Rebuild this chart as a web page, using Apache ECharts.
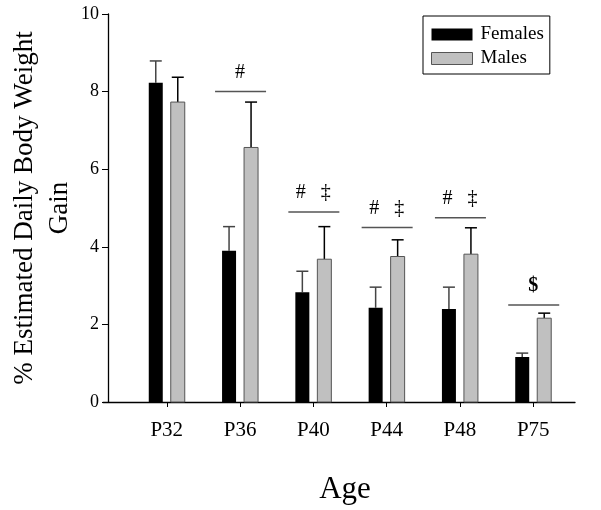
<!DOCTYPE html>
<html><head><meta charset="utf-8">
<script src="https://cdn.jsdelivr.net/npm/echarts@6/dist/echarts.min.js"></script>
<style>html,body{margin:0;padding:0;background:#fff}#c{width:601px;height:510px}</style>
</head><body><div id="c"></div>
<script>
const categories = ['P32', 'P36', 'P40', 'P44', 'P48', 'P75'];
const femaleMean = [8.23, 3.90, 2.83, 2.43, 2.40, 1.16];
const femaleErr  = [0.56, 0.62, 0.54, 0.53, 0.56, 0.10];
const maleMean   = [7.73, 6.56, 3.68, 3.75, 3.81, 2.16];
const maleErr    = [0.64, 1.17, 0.84, 0.43, 0.68, 0.13];
const sigIndex   = [1, 2, 3, 4, 5];
const sigLevels  = [8.0, 4.9, 4.5, 4.75, 2.5];
const sigLabels  = ['#', '#   \u2021', '#   \u2021', '#   \u2021', '$'];
const yTicks     = [0, 2, 4, 6, 8, 10];

const FONT = '"Liberation Serif", "Times New Roman", serif';
const chart = echarts.init(document.getElementById('c'), null, {renderer: 'canvas'});

function barRenderer(dx, fill, stroke, errColor) {
  return function (params, api) {
    const x = api.value(0), v = api.value(1), e = api.value(2);
    const base = api.coord([x, 0]);
    const top = api.coord([x, v]);
    const et = api.coord([x, v + e]);
    const cx = base[0] + dx;
    return {
      type: 'group',
      children: [
        {type: 'line', shape: {x1: cx, y1: top[1], x2: cx, y2: et[1]}, style: {stroke: errColor, lineWidth: 1.5}},
        {type: 'line', shape: {x1: cx - 6, y1: et[1], x2: cx + 6, y2: et[1]}, style: {stroke: errColor, lineWidth: 1.5}},
        {type: 'rect', shape: {x: cx - 7, y: top[1], width: 14, height: base[1] - top[1]},
         style: {fill: fill, stroke: stroke, lineWidth: stroke ? 1 : 0}}
      ]
    };
  };
}

const option = {
  animation: false,
  backgroundColor: '#fff',
  grid: {left: 103, right: 26, top: 14, bottom: 108, containLabel: false, outerBoundsMode: 'none'},
  legend: {
    orient: 'vertical', left: 423, top: 16,
    borderColor: '#000', borderWidth: 1, borderRadius: 0,
    padding: [9, 6, 6, 8],
    itemWidth: 41, itemHeight: 12, itemGap: 5,
    icon: 'rect',
    textStyle: {fontFamily: FONT, fontSize: 19, color: '#000', padding: [0, 0, 0, 3]},
    data: [
      {name: 'Females', itemStyle: {color: '#000'}},
      {name: 'Males', itemStyle: {color: '#c0c0c0', borderColor: '#555', borderWidth: 1}}
    ]
  },
  xAxis: {
    type: 'value', min: -0.87, max: 5.57,
    name: 'Age', nameLocation: 'middle', nameGap: 72, nameMoveOverlap: false,
    nameTextStyle: {fontFamily: FONT, fontSize: 31, color: '#000', padding: [0, 0, 0, 12]},
    axisLine: {show: true, onZero: false, lineStyle: {color: '#000', width: 1.3}},
    axisTick: {show: true, length: 5, inside: false, lineStyle: {color: '#000'}, customValues: [0, 1, 2, 3, 4, 5]},
    axisLabel: {customValues: [0, 1, 2, 3, 4, 5], margin: 18, fontFamily: FONT, fontSize: 21, color: '#000',
      formatter: function (v) { return categories[Math.round(v)]; }},
    splitLine: {show: false}
  },
  yAxis: {
    type: 'value', min: 0, max: 10, interval: 2, offset: -5,
    name: '% Estimated Daily Body Weight\nGain', nameLocation: 'middle', nameRotate: 90, nameGap: 31, nameMoveOverlap: false,
    nameTextStyle: {fontFamily: FONT, fontSize: 27, color: '#000', lineHeight: 35, align: 'center'},
    axisLine: {show: true, onZero: false, lineStyle: {color: '#000', width: 1.3}},
    axisTick: {show: true, length: 6, inside: false, lineStyle: {color: '#000'}},
    axisLabel: {margin: 9, fontFamily: FONT, fontSize: 18, color: '#000',
      customValues: yTicks},
    splitLine: {show: false}
  },
  series: [
    {
      name: 'Females', type: 'custom', clip: false,
      itemStyle: {color: '#000'},
      encode: {x: 0, y: 1},
      data: categories.map((c, i) => [i, femaleMean[i], femaleErr[i]]),
      renderItem: barRenderer(-11, '#000', null, '#444')
    },
    {
      name: 'Males', type: 'custom', clip: false,
      itemStyle: {color: '#c0c0c0'},
      encode: {x: 0, y: 1},
      data: categories.map((c, i) => [i, maleMean[i], maleErr[i]]),
      renderItem: barRenderer(11, '#c0c0c0', '#555', '#000')
    },
    {
      name: 'sig', type: 'custom', clip: false, silent: true,
      encode: {x: 0, y: 1},
      data: sigIndex.map((idx, k) => [idx, sigLevels[k]]),
      renderItem: function (params, api) {
        const p = api.coord([api.value(0), api.value(1)]);
        const label = sigLabels[params.dataIndex];
        return {
          type: 'group',
          children: [
            {type: 'line', shape: {x1: p[0] - 25, y1: p[1], x2: p[0] + 26, y2: p[1]}, style: {stroke: '#555', lineWidth: 1.5}},
            {type: 'text', x: p[0], y: p[1] - 9,
             style: {text: label, fill: '#000', font: (label === '$' ? 'bold ' : '') + '20px ' + FONT, align: 'center', verticalAlign: 'bottom'}}
          ]
        };
      }
    }
  ]
};
chart.setOption(option);
</script>
</body></html>
